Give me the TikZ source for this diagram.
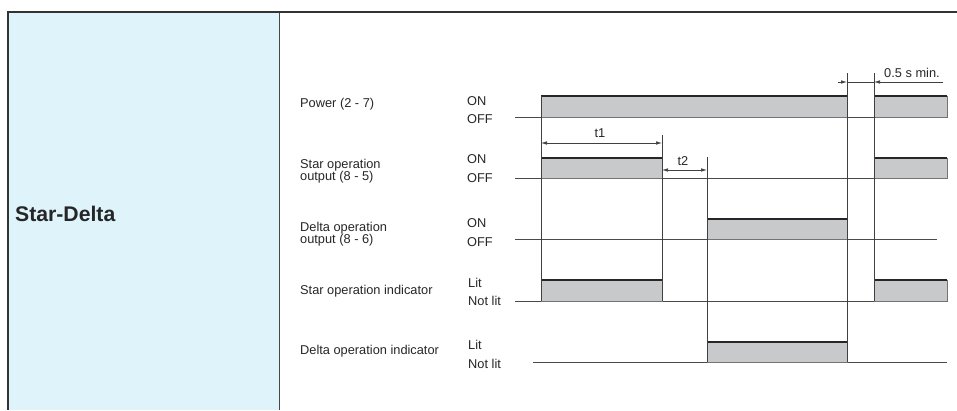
\documentclass[tikz,border=0pt]{standalone}
\usepackage{fontspec}
\setmainfont{Liberation Sans}
\usetikzlibrary{arrows.meta}
\definecolor{panelblue}{HTML}{DFF3FB}
\definecolor{pulsefill}{HTML}{C8C9CB}
\definecolor{frameline}{HTML}{333333}
\definecolor{baseline}{HTML}{4A4A4A}
\tikzset{
  lbl/.style={anchor=base west, inner sep=0pt, font=\fontsize{12.8}{13}\selectfont, text=black!85},
  frame/.style={draw=frameline, line width=2pt},
  divider/.style={draw=frameline!90, line width=0.9pt},
  baseln/.style={draw=baseline, line width=0.8pt},
  pulsebox/.style={fill=pulsefill, draw=black!55, line width=0.6pt},
  pulsetop/.style={draw=black!85, line width=1.6pt},
  vline/.style={draw=black!75, line width=0.7pt},
  dimarrow/.style={draw=black!75, line width=0.6pt, {Latex[length=6pt,width=3.5pt]}-{Latex[length=6pt,width=3.5pt]}},
  dimhead/.style={draw=black!75, line width=0.6pt, -{Latex[length=6pt,width=3.5pt]}},
}
% pulse: x1, x2, base y, high y
\newcommand{\tdpulse}[4]{%
  \path[pulsebox] (#1,#3) rectangle (#2,#4);
  \draw[pulsetop] (#1,#4) -- (#2,#4);
}
\begin{document}
\begin{tikzpicture}[x=1pt,y=-1pt]
\useasboundingbox (0,0) rectangle (957,410);
% left panel
\fill[panelblue] (8,12) rectangle (279,410);
\draw[divider] (279,12) -- (279,410);
\draw[frame] (8,410) -- (8,12) -- (957,12);
\node[anchor=west, inner sep=0pt, font=\fontsize{21.2}{22}\selectfont\bfseries, text=black!85] (title) at (15,214) {Star-Delta};

% signal labels
\node[lbl] (lp) at (300,107.5) {Power (2 - 7)};
\node[lbl] (ls1) at (300,168.5) {Star operation};
\node[lbl] (ls2) at (300,180) {output (8 - 5)};
\node[lbl] (ld1) at (300,231.5) {Delta operation};
\node[lbl] (ld2) at (300,243) {output (8 - 6)};
\node[lbl] (lsi) at (300,294.5) {Star operation indicator};
\node[lbl] (ldi) at (300,354.5) {Delta operation indicator};

% state labels
\node[lbl] (on1) at (467,105.5) {ON};
\node[lbl] (off1) at (467,123.5) {OFF};
\node[lbl] (on2) at (467,163.5) {ON};
\node[lbl] (off2) at (467,182.5) {OFF};
\node[lbl] (on3) at (467,227.5) {ON};
\node[lbl] (off3) at (467,246.5) {OFF};
\node[lbl] (lit1) at (468,287.5) {Lit};
\node[lbl] (nl1) at (468,305.5) {Not lit};
\node[lbl] (lit2) at (468,349.5) {Lit};
\node[lbl] (nl2) at (468,368.5) {Not lit};

% baselines
\draw[baseln] (515,117) -- (947,117);
\draw[baseln] (515,178) -- (947,178);
\draw[baseln] (515,239) -- (937,239);
\draw[baseln] (515,301) -- (947,301);
\draw[baseln] (533,362) -- (947,362);

% pulses
\tdpulse{541}{847}{117}{96}
\tdpulse{874}{947}{117}{96}
\tdpulse{541}{662}{178}{158}
\tdpulse{874}{947}{178}{158}
\tdpulse{707}{847}{239}{219}
\tdpulse{541}{662}{301}{280}
\tdpulse{874}{947}{301}{280}
\tdpulse{707}{847}{362}{342}

% vertical timing lines
\draw[vline] (541,96) -- (541,301);
\draw[vline] (662,135) -- (662,301);
\draw[vline] (707,157) -- (707,362);
\draw[vline] (847,73) -- (847,362);
\draw[vline] (874,73) -- (874,301);

% dimensions
\coordinate (t1a) at (541,143);
\coordinate (t1b) at (662,143);
\draw[dimarrow] (t1a) -- (t1b);
\node[lbl, anchor=center] (t1) at (600,133) {t1};
\coordinate (t2a) at (662,170);
\coordinate (t2b) at (707,170);
\draw[dimarrow] (t2a) -- (t2b);
\node[lbl, anchor=center] (t2) at (683,161) {t2};
\coordinate (m0) at (838,82);
\coordinate (m1) at (847,82);
\coordinate (m2) at (874,82);
\coordinate (m3) at (943,82);
\draw[dimhead] (m0) -- (m1);
\draw[draw=black!75, line width=0.6pt] (m1) -- (m2);
\draw[dimhead] (m3) -- (m2);
\node[lbl, anchor=west] (tmin) at (884,73) {0.5 s min.};
\end{tikzpicture}
\end{document}
